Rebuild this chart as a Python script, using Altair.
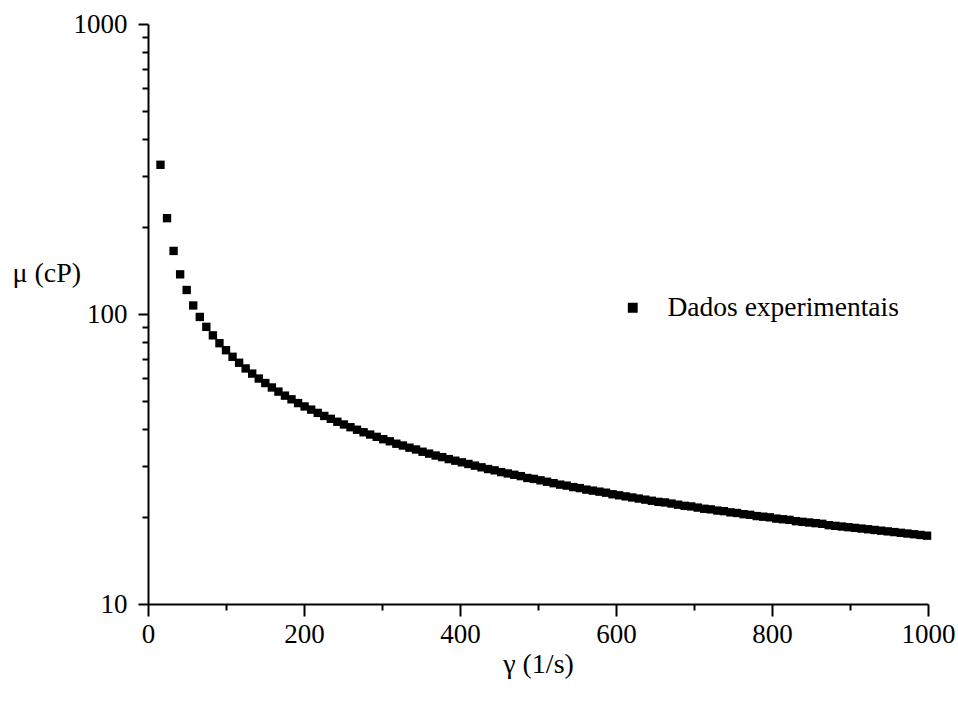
import altair as alt
import pandas as pd

# Shear rate (1/s)
gamma = [16.0, 24.4, 32.8, 41.2, 49.6, 58.0, 66.4, 74.8, 83.2, 91.6,
         100.0, 108.4, 116.8, 125.2, 133.6, 142.0, 150.4, 158.8, 167.2, 175.6,
         184.0, 192.4, 200.8, 209.2, 217.6, 226.0, 234.4, 242.8, 251.2, 259.6,
         268.0, 276.4, 284.8, 293.2, 301.6, 310.0, 318.4, 326.8, 335.2, 343.6,
         352.0, 360.4, 368.8, 377.2, 385.6, 394.0, 402.4, 410.8, 419.2, 427.6,
         436.0, 444.4, 452.8, 461.2, 469.6, 478.0, 486.4, 494.8, 503.2, 511.6,
         520.0, 528.4, 536.8, 545.2, 553.6, 562.0, 570.4, 578.8, 587.2, 595.6,
         604.0, 612.4, 620.8, 629.2, 637.6, 646.0, 654.4, 662.8, 671.2, 679.6,
         688.0, 696.4, 704.8, 713.2, 721.6, 730.0, 738.4, 746.8, 755.2, 763.6,
         772.0, 780.4, 788.8, 797.2, 805.6, 814.0, 822.4, 830.8, 839.2, 847.6,
         856.0, 864.4, 872.8, 881.2, 889.6, 898.0, 906.4, 914.8, 923.2, 931.6,
         940.0, 948.4, 956.8, 965.2, 973.6, 982.0, 990.4, 998.8]

# Viscosity (cP)
mu = [327, 214, 165, 137, 121, 107, 97.7, 90.3, 84.4, 79.3,
      75.0, 71.2, 67.9, 64.9, 62.3, 59.9, 57.8, 55.8, 54.0, 52.3,
      50.8, 49.3, 48.0, 46.8, 45.6, 44.5, 43.5, 42.5, 41.6, 40.7,
      39.9, 39.1, 38.4, 37.7, 37.0, 36.4, 35.7, 35.2, 34.6, 34.1,
      33.5, 33.0, 32.5, 32.1, 31.6, 31.2, 30.8, 30.4, 30.0, 29.6,
      29.2, 28.9, 28.5, 28.2, 27.9, 27.6, 27.2, 27.0, 26.7, 26.4,
      26.1, 25.8, 25.6, 25.3, 25.1, 24.8, 24.6, 24.4, 24.2, 23.9,
      23.7, 23.5, 23.3, 23.1, 22.9, 22.7, 22.5, 22.4, 22.2, 22.0,
      21.8, 21.7, 21.5, 21.3, 21.2, 21.0, 20.9, 20.7, 20.6, 20.4,
      20.3, 20.1, 20.0, 19.9, 19.7, 19.6, 19.5, 19.3, 19.2, 19.1,
      19.0, 18.9, 18.7, 18.6, 18.5, 18.4, 18.3, 18.2, 18.1, 18.0,
      17.9, 17.8, 17.7, 17.6, 17.5, 17.4, 17.3, 17.2]

series_name = "Dados experimentais"
x_major = [0, 200, 400, 600, 800, 1000]
x_minor = [100, 300, 500, 700, 900]
y_major = [10, 100, 1000]
y_minor = [20, 30, 40, 50, 60, 70, 80, 90, 200, 300, 400, 500, 600, 700, 800, 900]

df = pd.DataFrame({"gamma": gamma, "mu": mu, "serie": [series_name] * len(gamma)})

FONT = "Liberation Serif"
xscale = alt.Scale(domain=[0, 1000], nice=False, zero=False)
yscale = alt.Scale(type="log", domain=[10, 1000], nice=False)

common_axis = dict(domainColor="black", domainWidth=2, tickColor="black", tickWidth=2,
                   grid=False, labelFont=FONT, labelColor="black", labelFontSize=27,
                   titleFont=FONT, titleColor="black", titleFontSize=28, titleFontWeight="normal")

main = alt.Chart(df).mark_point(shape="square", filled=True, size=70, opacity=1).encode(
    x=alt.X("gamma:Q", scale=xscale,
            axis=alt.Axis(values=x_major, tickSize=12, labelPadding=5, format="d",
                          orient="bottom",
                          title="γ (1/s)", titleY=60, titleBaseline="middle",
                          labelFlush=False, **common_axis)),
    y=alt.Y("mu:Q", scale=yscale,
            axis=alt.Axis(values=y_major, tickSize=10, labelPadding=11, format="d",
                          orient="left",
                          title="μ (cP)", titleAngle=0, titleX=-136, titleY=249,
                          titleAlign="left", titleBaseline="middle",
                          labelFlush=False, **common_axis)),
    color=alt.Color("serie:N", scale=alt.Scale(range=["black"]),
                    legend=alt.Legend(title=None, orient="none", legendX=471, legendY=270,
                                      symbolType="square", symbolSize=70,
                                      symbolFillColor="black", symbolStrokeColor="black",
                                      labelFont=FONT, labelFontSize=27.5, labelColor="black",
                                      labelOffset=21, labelLimit=0, padding=0)),
)

minor = alt.Chart(df).mark_point(opacity=0).encode(
    x=alt.X("gamma:Q", scale=xscale,
            axis=alt.Axis(values=x_minor, tickSize=6, labels=False, domain=False,
                          title=None, orient="bottom", tickColor="black", tickWidth=2, grid=False)),
    y=alt.Y("mu:Q", scale=yscale,
            axis=alt.Axis(values=y_minor, tickSize=6, labels=False, domain=False,
                          title=None, orient="left", tickColor="black", tickWidth=2, grid=False)),
)

chart = alt.layer(minor, main).resolve_axis(x="independent", y="independent").properties(
    width=780, height=580,
    padding={"left": 148, "top": 24, "right": 30, "bottom": 103},
    autosize=alt.AutoSizeParams(type="none"),
    background="white",
).configure_view(stroke=None)

chart.save("out.html", embed_options={"renderer": "svg", "actions": False})
